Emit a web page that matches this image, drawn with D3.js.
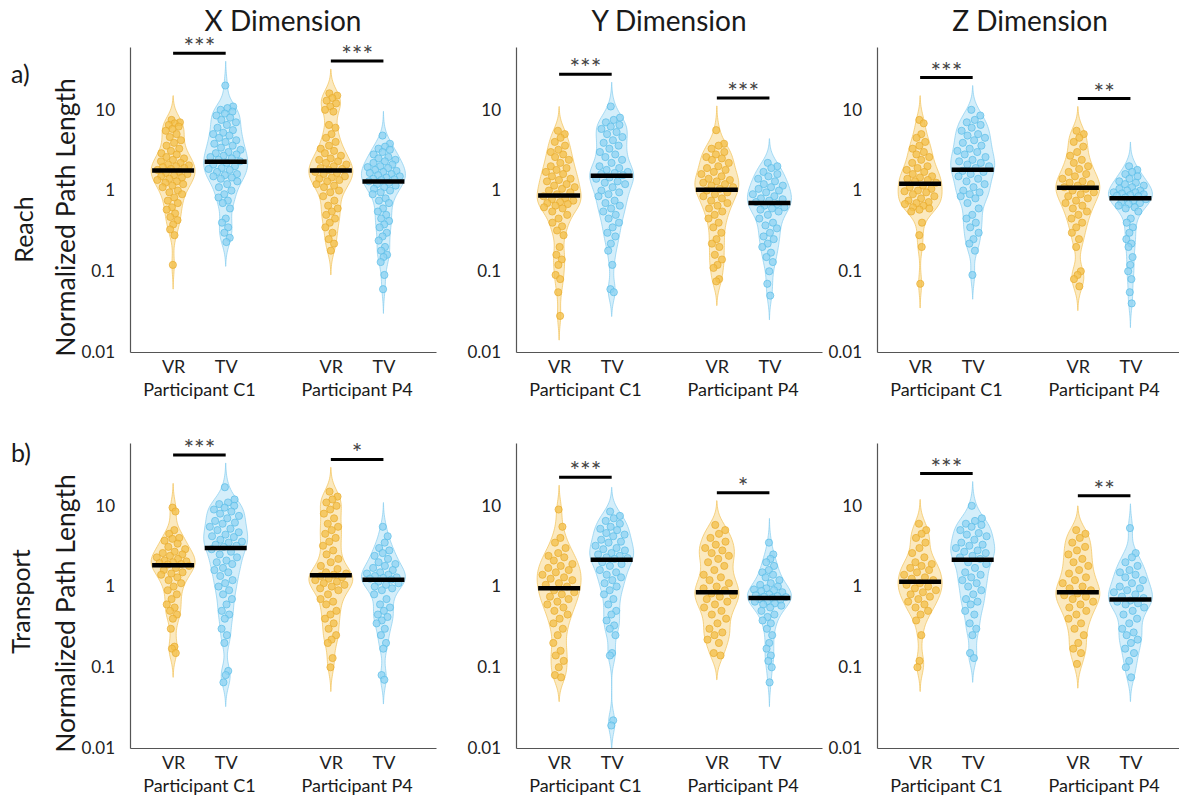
<!DOCTYPE html>
<meta charset="utf-8">
<style>
body { margin: 0; background: #fff; }
text { font-family: Lato, "Open Sans", sans-serif; fill: #1a1a1a; }
.axis path { stroke: #555; stroke-width: 1.2px; }
.axis text { font-size: 17px; font-family: Lato, sans-serif; fill: #222; }
</style>
<body>
<script src="https://d3js.org/d3.v7.min.js"></script>
<script>

// ---- labels ----
var dims = ["X Dimension", "Y Dimension", "Z Dimension"];
var tasks = ["Reach", "Transport"];
var panelTags = ["a)", "b)"];
var participants = ["Participant C1", "Participant P4"];
var conditions = ["VR", "TV"];
var yTicks = [0.01, 0.1, 1, 10];
var groupPos = [1, 2, 4, 5];   // VR C1, TV C1, VR P4, TV P4

// ---- Reach: normalized path length per trial ----
var reachX_C1_VR = [7.5,7.0,6.8,6.5,6.2,5.8,5.5,5.0,4.6,4.2,3.9,3.6,3.3,3.1,2.9,2.8,2.6,2.5,2.4,2.3,2.2,2.1,2.05,2.0,1.95,1.9,1.85,1.8,1.7,1.65,1.6,1.55,1.5,1.45,1.4,1.35,1.3,1.25,1.2,1.15,1.1,1.0,0.95,0.9,0.82,0.75,0.7,0.62,0.58,0.52,0.47,0.43,0.38,0.33,0.28,0.12];
var reachX_C1_TV = [20,11,10.5,10,9.5,9,8.5,8,7.5,7,6.5,6,5.6,5.2,5,4.8,4.5,4.2,4.0,3.8,3.6,3.4,3.2,3.0,2.9,2.8,2.7,2.6,2.5,2.4,2.3,2.2,2.1,2.0,1.9,1.85,1.8,1.7,1.6,1.55,1.5,1.45,1.4,1.3,1.2,1.1,1.0,0.9,0.82,0.75,0.7,0.6,0.45,0.4,0.35,0.3,0.26,0.23];
var reachX_P4_VR = [16,15,14,13,12,11,10,9.5,6.5,6,5,4.5,4,3.6,3.3,3.1,2.9,2.7,2.5,2.4,2.3,2.2,2.1,2.0,1.9,1.85,1.8,1.7,1.65,1.6,1.5,1.45,1.4,1.35,1.3,1.2,1.15,1.1,1.0,0.95,0.85,0.75,0.65,0.6,0.55,0.5,0.45,0.4,0.35,0.3,0.25,0.22,0.18];
var reachX_P4_TV = [4.8,3.8,3.5,3.3,3.2,3.0,2.8,2.6,2.5,2.4,2.3,2.2,2.1,2.0,1.95,1.9,1.8,1.75,1.7,1.65,1.6,1.55,1.5,1.45,1.4,1.38,1.35,1.3,1.25,1.2,1.15,1.1,1.05,1.0,0.95,0.9,0.8,0.75,0.7,0.6,0.55,0.5,0.45,0.42,0.38,0.35,0.3,0.27,0.24,0.2,0.18,0.16,0.15,0.13,0.09,0.06];

var reachY_C1_VR = [5.5,5.0,4.5,4.0,3.6,3.2,3.0,2.8,2.6,2.4,2.2,2.0,1.9,1.8,1.7,1.6,1.5,1.4,1.35,1.3,1.2,1.15,1.1,1.05,1.0,0.95,0.9,0.85,0.8,0.78,0.75,0.72,0.7,0.68,0.65,0.62,0.6,0.55,0.5,0.45,0.4,0.36,0.32,0.28,0.2,0.16,0.14,0.12,0.09,0.08,0.055,0.028];
var reachY_C1_TV = [11,8,7.5,7,6.5,6.2,5.8,5.3,5,4.6,4.2,3.9,3.6,3.3,3.0,2.8,2.6,2.4,2.2,2.0,1.9,1.8,1.7,1.65,1.6,1.55,1.45,1.4,1.3,1.25,1.2,1.1,1.0,0.95,0.9,0.85,0.75,0.7,0.65,0.6,0.55,0.5,0.45,0.4,0.35,0.3,0.27,0.22,0.18,0.12,0.06,0.055];
var reachY_P4_VR = [5.6,3.8,3.6,3.3,3.0,2.8,2.6,2.5,2.4,2.2,2.0,1.9,1.8,1.7,1.6,1.5,1.4,1.35,1.3,1.25,1.2,1.15,1.1,1.05,1.0,0.95,0.9,0.85,0.8,0.75,0.7,0.65,0.6,0.55,0.5,0.45,0.4,0.35,0.3,0.25,0.22,0.2,0.16,0.14,0.12,0.11,0.08,0.075];
var reachY_P4_TV = [2.2,2.0,1.9,1.7,1.6,1.5,1.4,1.3,1.2,1.15,1.1,1.05,1.0,0.95,0.9,0.85,0.8,0.78,0.75,0.72,0.68,0.65,0.62,0.6,0.58,0.55,0.5,0.45,0.4,0.37,0.34,0.3,0.27,0.25,0.22,0.2,0.17,0.15,0.13,0.1,0.07,0.05];

var reachZ_C1_VR = [7.5,6.8,5,4.5,4.0,3.6,3.3,3.0,2.8,2.6,2.4,2.2,2.0,1.9,1.8,1.7,1.6,1.5,1.45,1.4,1.35,1.3,1.25,1.15,1.1,1.05,1.0,0.98,0.95,0.9,0.85,0.8,0.75,0.72,0.7,0.68,0.65,0.62,0.6,0.58,0.55,0.4,0.28,0.2,0.07];
var reachZ_C1_TV = [10,8.5,7.5,7,6.5,6,5.5,5,4.8,4.5,4.2,3.9,3.6,3.3,3.1,3.0,2.8,2.6,2.4,2.3,2.2,2.1,2.0,1.9,1.75,1.7,1.6,1.5,1.4,1.3,1.2,1.1,1.0,0.95,0.9,0.85,0.8,0.7,0.6,0.5,0.45,0.4,0.35,0.3,0.25,0.22,0.18,0.09];
var reachZ_P4_VR = [5.5,5.0,4.5,4.0,3.5,3.0,2.7,2.4,2.2,2.0,1.85,1.7,1.6,1.5,1.4,1.3,1.25,1.2,1.15,1.1,1.05,1.0,0.95,0.9,0.85,0.8,0.75,0.7,0.65,0.6,0.55,0.5,0.45,0.4,0.35,0.3,0.25,0.2,0.1,0.09,0.08,0.065];
var reachZ_P4_TV = [2.0,1.8,1.7,1.6,1.5,1.4,1.3,1.25,1.2,1.15,1.1,1.05,1.0,1.0,0.95,0.95,0.92,0.9,0.88,0.86,0.85,0.82,0.78,0.75,0.72,0.7,0.68,0.65,0.62,0.6,0.55,0.45,0.4,0.35,0.3,0.25,0.22,0.2,0.15,0.12,0.1,0.08,0.055,0.04];

// ---- Transport ----
var transX_C1_VR = [9.5,8.5,5,4.5,4,3.9,3.7,3.4,3.1,2.9,2.7,2.6,2.5,2.4,2.3,2.2,2.1,2.05,2.0,1.95,1.9,1.88,1.8,1.7,1.6,1.5,1.45,1.4,1.3,1.2,1.1,1.0,0.9,0.8,0.7,0.6,0.55,0.5,0.45,0.4,0.3,0.18,0.17,0.15];
var transX_C1_TV = [17,12,11,10.5,10,9.5,9,8.5,8,7.5,7,6.5,6.2,6,5.5,5.2,5,4.7,4.4,4.2,4.1,3.8,3.6,3.5,3.3,3.2,3.1,2.9,2.7,2.5,2.3,2.1,2.0,1.9,1.7,1.6,1.5,1.35,1.2,1.1,1.0,0.9,0.8,0.7,0.6,0.5,0.45,0.4,0.3,0.25,0.2,0.09,0.08,0.065];
var transX_P4_VR = [15,13,12,11,10,9,8,7,6,5.5,5,4.5,4,3.6,3.2,2.8,2.5,2.2,2.0,1.8,1.65,1.5,1.45,1.4,1.35,1.3,1.25,1.2,1.15,1.1,1.05,1.0,0.95,0.9,0.8,0.7,0.65,0.6,0.5,0.45,0.4,0.35,0.3,0.25,0.22,0.2,0.13,0.1];
var transX_P4_TV = [5.5,4.2,3.5,3.0,2.8,2.6,2.4,2.2,2.0,1.9,1.8,1.7,1.6,1.5,1.45,1.4,1.35,1.3,1.28,1.25,1.22,1.15,1.1,1.05,1.0,0.95,0.9,0.8,0.7,0.6,0.55,0.5,0.45,0.42,0.38,0.35,0.3,0.25,0.2,0.17,0.08,0.07];

var transY_C1_VR = [9,5.5,4,3.5,3.0,2.6,2.4,2.3,2.1,1.9,1.8,1.7,1.6,1.5,1.4,1.3,1.25,1.2,1.1,1.05,1.0,0.9,0.85,0.8,0.75,0.7,0.65,0.6,0.55,0.5,0.45,0.4,0.35,0.3,0.25,0.2,0.16,0.14,0.12,0.1,0.08,0.075];
var transY_C1_TV = [8.5,7.5,7,6.5,6,5.5,5.2,5,4.6,4.4,4.2,3.8,3.6,3.5,3.2,3.0,2.9,2.8,2.6,2.5,2.4,2.3,2.25,2.2,2.0,1.9,1.8,1.6,1.5,1.4,1.3,1.2,1.1,1.0,0.9,0.8,0.7,0.6,0.5,0.45,0.38,0.33,0.3,0.25,0.15,0.14,0.022,0.019];
var transY_P4_VR = [5.8,5,4.5,4,3.6,3.3,3.0,2.8,2.6,2.4,2.2,2.0,1.8,1.6,1.4,1.3,1.2,1.1,1.0,0.95,0.9,0.82,0.78,0.75,0.7,0.65,0.6,0.55,0.5,0.45,0.4,0.35,0.3,0.27,0.25,0.22,0.2,0.15,0.14];
var transY_P4_TV = [3.5,2.5,2.2,2.0,1.8,1.6,1.5,1.4,1.3,1.2,1.1,1.05,1.0,0.95,0.92,0.9,0.88,0.85,0.8,0.78,0.76,0.75,0.74,0.72,0.7,0.68,0.66,0.65,0.62,0.6,0.58,0.55,0.5,0.45,0.42,0.38,0.35,0.3,0.25,0.2,0.17,0.14,0.12,0.1,0.065];

var transZ_C1_VR = [6,5,4.5,4,3.5,3.0,2.6,2.3,2.0,1.9,1.8,1.7,1.6,1.5,1.4,1.3,1.25,1.2,1.1,1.05,1.0,0.95,0.9,0.85,0.8,0.75,0.7,0.65,0.6,0.55,0.5,0.45,0.38,0.25,0.12,0.1];
var transZ_C1_TV = [10,7,6.5,6,5.8,5.5,5,4.6,4.4,4.2,3.8,3.5,3.3,3.2,3.0,2.8,2.7,2.6,2.4,2.3,2.2,2.0,1.9,1.7,1.5,1.4,1.3,1.2,1.1,1.0,0.9,0.8,0.7,0.65,0.6,0.5,0.45,0.35,0.3,0.25,0.15,0.13];
var transZ_P4_VR = [5,4.5,4,3.5,3.1,2.8,2.5,2.2,2.0,1.8,1.6,1.45,1.3,1.2,1.1,1.0,0.95,0.9,0.82,0.78,0.75,0.7,0.65,0.6,0.55,0.5,0.45,0.4,0.35,0.3,0.25,0.2,0.17,0.15,0.11];
var transZ_P4_TV = [5.3,2.6,2.3,2.0,1.8,1.6,1.5,1.4,1.3,1.2,1.1,1.0,0.95,0.9,0.85,0.8,0.75,0.72,0.67,0.65,0.62,0.6,0.55,0.5,0.45,0.4,0.35,0.3,0.27,0.25,0.22,0.2,0.17,0.15,0.12,0.1,0.075];

// medians (VR C1, TV C1, VR P4, TV P4) per dimension
var reachMedians = [[1.77, 2.27, 1.77, 1.29], [0.87, 1.52, 1.02, 0.70], [1.21, 1.81, 1.08, 0.80]];
var transMedians = [[1.84, 3.0, 1.38, 1.21], [0.95, 2.15, 0.85, 0.72], [1.15, 2.14, 0.85, 0.69]];

// significance stars (C1, P4) per dimension
var reachStars = [["***", "***"], ["***", "***"], ["***", "**"]];
var transStars = [["***", "*"], ["***", "*"], ["***", "**"]];

var reachData = [
  [reachX_C1_VR, reachX_C1_TV, reachX_P4_VR, reachX_P4_TV],
  [reachY_C1_VR, reachY_C1_TV, reachY_P4_VR, reachY_P4_TV],
  [reachZ_C1_VR, reachZ_C1_TV, reachZ_P4_VR, reachZ_P4_TV]
];
var transData = [
  [transX_C1_VR, transX_C1_TV, transX_P4_VR, transX_P4_TV],
  [transY_C1_VR, transY_C1_TV, transY_P4_VR, transY_P4_TV],
  [transZ_C1_VR, transZ_C1_TV, transZ_P4_VR, transZ_P4_TV]
];

// ---- layout ----
var width = 1179, height = 801;
var panelLeft = [130, 516, 877], panelW = 306;
var rowTop = [47, 443], rowH = 305;
var halfW = 22, bw = 0.12, pad = 0.3;

var colors = {
  VR: { area: "#f6cf72", edge: "#f2c257", dot: "#f4c04c", dotEdge: "#e7aa2c" },
  TV: { area: "#9fd9f4", edge: "#86cdef", dot: "#8fd3f2", dotEdge: "#58bce8" }
};

var svg = d3.select("body").append("svg")
    .attr("width", width)
    .attr("height", height);

var x = d3.scaleLinear().domain([0.18, 6]).range([0, panelW]);
var y = d3.scaleLog().domain([0.01, 60]).range([rowH, 0]);

// density on log10 axis, normalised to 1 at the widest point
function kde(vals) {
  var lv = vals.map(Math.log10);
  var lo = d3.min(lv) - pad, hi = d3.max(lv) + pad;
  var dens = function(g) { return d3.sum(lv, function(v) { return Math.exp(-0.5 * Math.pow((g - v) / bw, 2)); }); };
  var grid = d3.range(0, 121).map(function(i) { return lo + (hi - lo) * i / 120; });
  var pts = grid.map(function(g) { return [g, dens(g)]; });
  var m = d3.max(pts, function(d) { return d[1]; });
  return { pts: pts.map(function(d) { return [d[0], d[1] / m]; }), at: function(v) { return dens(Math.log10(v)) / m; }, lo: lo, hi: hi };
}

svg.append("defs").append("clipPath").attr("id", "plotclip")
  .append("rect").attr("x", 0).attr("y", -60).attr("width", panelW).attr("height", rowH + 60);

function drawPanel(r, d, groups, medians, stars) {
  var g = svg.append("g").attr("transform", "translate(" + panelLeft[d] + "," + rowTop[r] + ")");
  var plot = g.append("g").attr("clip-path", "url(#plotclip)");
  var shapes = groups.map(kde);

  groups.forEach(function(vals, k) {
    var cond = conditions[k % 2], c = colors[cond], cx = x(groupPos[k]), sh = shapes[k];
    var area = d3.area()
        .y(function(p) { return y(Math.pow(10, p[0])); })
        .x0(function(p) { return cx - p[1] * halfW; })
        .x1(function(p) { return cx + p[1] * halfW; })
        .curve(d3.curveBasis);
    plot.append("path").datum(sh.pts)
        .attr("d", area)
        .attr("fill", c.area).attr("fill-opacity", 0.45)
        .attr("stroke", c.edge).attr("stroke-opacity", 0.7).attr("stroke-width", 1);

    plot.append("g").selectAll("circle")
      .data(vals)
      .enter().append("circle")
        .attr("r", 3.6)
        .attr("cx", function(v, i) {
          var u = ((i * 0.618034 + 0.37) % 1) * 2 - 1;
          return cx + u * sh.at(v) * halfW * 0.8;
        })
        .attr("cy", function(v) { return y(v); })
        .attr("fill", c.dot).attr("fill-opacity", 0.78)
        .attr("stroke", c.dotEdge).attr("stroke-opacity", 0.85).attr("stroke-width", 0.8);
  });

  // median bars
  g.append("g").selectAll("line")
    .data(medians)
    .enter().append("line")
      .attr("x1", function(m, k) { return x(groupPos[k]) - 21; })
      .attr("x2", function(m, k) { return x(groupPos[k]) + 21; })
      .attr("y1", function(m) { return y(m); })
      .attr("y2", function(m) { return y(m); })
      .attr("stroke", "#000").attr("stroke-width", 4.5);

  // significance brackets
  [0, 1].forEach(function(p) {
    var top = Math.max(shapes[2 * p].hi, shapes[2 * p + 1].hi);
    var by = y(Math.pow(10, top)) - 8;
    var x1 = x(groupPos[2 * p]), x2 = x(groupPos[2 * p + 1]);
    g.append("line").attr("x1", x1).attr("x2", x2).attr("y1", by).attr("y2", by)
      .attr("stroke", "#000").attr("stroke-width", 3);
    g.append("text").attr("x", (x1 + x2) / 2).attr("y", by + 3)
      .attr("text-anchor", "middle").style("font-size", "25px").style("fill", "#444")
      .text(stars[p]);
  });

  // axes
  g.append("g").attr("class", "axis")
    .call(d3.axisLeft(y).tickValues(yTicks).tickFormat(d3.format("~g")).tickSize(0).tickSizeOuter(0).tickPadding(15));
  var xa = g.append("g").attr("class", "axis").attr("transform", "translate(0," + rowH + ")")
    .call(d3.axisBottom(x).tickValues(groupPos).tickFormat(function(v, i) { return conditions[i % 2]; })
      .tickSize(0).tickSizeOuter(0).tickPadding(8));
  xa.selectAll("text").style("font-size", "18px");

  participants.forEach(function(pn, p) {
    g.append("text")
      .attr("x", (x(groupPos[2 * p]) + x(groupPos[2 * p + 1])) / 2)
      .attr("y", rowH + 44)
      .attr("text-anchor", "middle").style("font-size", "18px")
      .text(pn);
  });
}

[reachData, transData].forEach(function(rowData, r) {
  var med = r === 0 ? reachMedians : transMedians;
  var st = r === 0 ? reachStars : transStars;
  rowData.forEach(function(groups, d) { drawPanel(r, d, groups, med[d], st[d]); });
});

// column titles
dims.forEach(function(t, d) {
  svg.append("text").attr("x", panelLeft[d] + panelW / 2).attr("y", 31)
    .attr("text-anchor", "middle").style("font-size", "28px").text(t);
});

// row labels
tasks.forEach(function(t, r) {
  var cy = rowTop[r] + rowH / 2;
  svg.append("text").attr("transform", "translate(" + (r === 0 ? 33 : 30) + "," + (cy + (r === 0 ? 30 : 6)) + ") rotate(-90)")
    .attr("text-anchor", "middle").style("font-size", "25px").text(t);
  svg.append("text").attr("transform", "translate(75," + (cy + 18) + ") rotate(-90)")
    .attr("text-anchor", "middle").style("font-size", "26.5px").text("Normalized Path Length");
  svg.append("text").attr("x", 11).attr("y", rowTop[r] + (r === 0 ? 36 : 19))
    .style("font-size", "25px").text(panelTags[r]);
});

</script>
